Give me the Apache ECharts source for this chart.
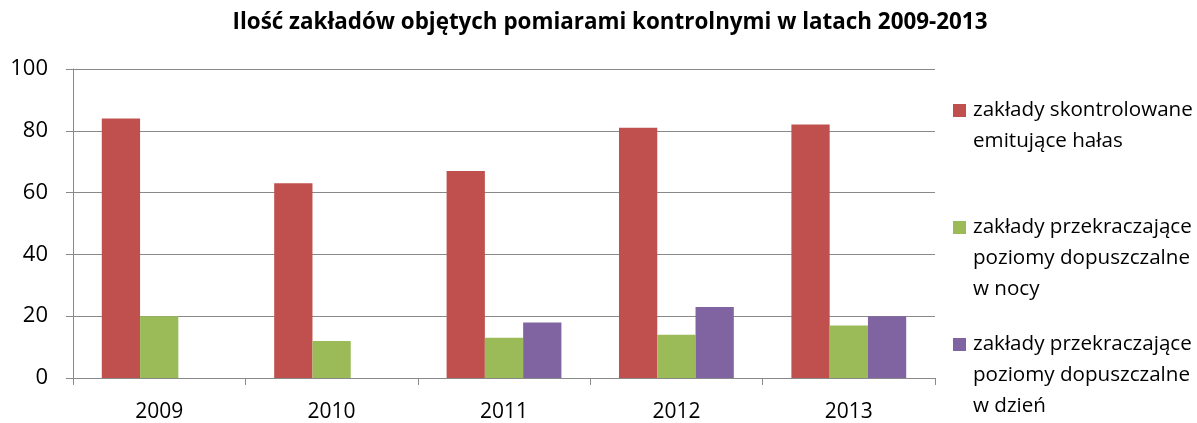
<!DOCTYPE html>
<html>
<head>
<meta charset="utf-8">
<script src="https://cdn.jsdelivr.net/npm/echarts@6/dist/echarts.min.js"></script>
<style>
  html, body { margin: 0; padding: 0; background: #ffffff; }
  #chart { width: 1197px; height: 423px; }
</style>
</head>
<body>
<div id="chart"></div>
<script>
// Years on the category axis
const years = ['2009', '2010', '2011', '2012', '2013'];

// Number of plants per year
const controlled = [84, 63, 67, 81, 82];
const exceedNight = [20, 12, 13, 14, 17];
const exceedDay = [null, null, 18, 23, 20];

const seriesNames = [
  'zakłady skontrolowane\nemitujące hałas\n ',
  'zakłady przekraczające\npoziomy dopuszczalne\nw nocy',
  'zakłady przekraczające\npoziomy dopuszczalne\nw dzień'
];

const yTicks = { min: 0, max: 100, interval: 20 };

const FONT = '"Open Sans"';
const LINE_H = 31;
const GRID_COLOR = '#898989';

// Legend marker: a 13px square beside the first text line of a three-line entry
const iconPath = 'path://M0,0 L0,0 Z M0,9 L13,9 L13,22 L0,22 Z M15,93 L15,93 Z';

const chart = echarts.init(document.getElementById('chart'), null, { renderer: 'canvas' });

chart.setOption({
  animation: false,
  backgroundColor: '#ffffff',
  title: {
    text: 'Ilość zakładów objętych pomiarami kontrolnymi w latach 2009-2013',
    left: 605,
    textAlign: 'center',
    top: 7,
    textStyle: { fontFamily: FONT, fontWeight: 'bold', fontSize: 22.4, color: '#000000' }
  },
  legend: {
    orient: 'vertical',
    left: 953,
    top: 95,
    padding: 0,
    itemGap: 24,
    itemWidth: 15,
    itemHeight: 93,
    icon: iconPath,
    textStyle: { fontFamily: FONT, fontSize: 20.6, lineHeight: LINE_H, color: '#000000' },
    data: seriesNames
  },
  grid: { left: 73, right: 262, top: 69, bottom: 44, containLabel: false },
  xAxis: {
    type: 'category',
    data: years,
    axisLine: { show: true, lineStyle: { color: GRID_COLOR, width: 1 } },
    axisTick: { show: true, length: 7, alignWithLabel: false, interval: 0, lineStyle: { color: GRID_COLOR } },
    axisLabel: { fontFamily: FONT, fontSize: 21, color: '#000000', margin: 24 },
    splitLine: { show: false }
  },
  yAxis: {
    type: 'value',
    min: yTicks.min,
    max: yTicks.max,
    interval: yTicks.interval,
    axisLine: { show: true, lineStyle: { color: GRID_COLOR, width: 1 } },
    axisTick: { show: true, length: 7, lineStyle: { color: GRID_COLOR } },
    axisLabel: { fontFamily: FONT, fontSize: 22, color: '#000000', margin: 25 },
    splitLine: { show: true, lineStyle: { color: GRID_COLOR, width: 1 } }
  },
  series: [
    { name: seriesNames[0], type: 'bar', data: controlled, itemStyle: { color: '#C0504D' }, barGap: '0%', barCategoryGap: '33.4%' },
    { name: seriesNames[1], type: 'bar', data: exceedNight, itemStyle: { color: '#9BBB59' }, barGap: '0%', barCategoryGap: '33.4%' },
    { name: seriesNames[2], type: 'bar', data: exceedDay, itemStyle: { color: '#8064A2' }, barGap: '0%', barCategoryGap: '33.4%' }
  ]
});
</script>
</body>
</html>
